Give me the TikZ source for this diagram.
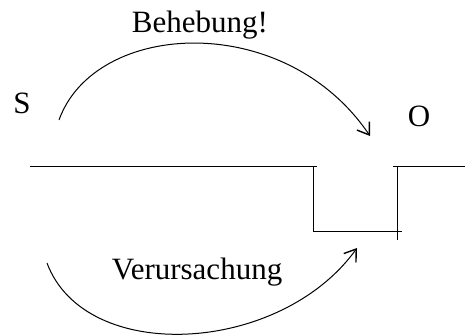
\documentclass[tikz,border=0pt]{standalone}
\usepackage{fontspec}
\setmainfont{Liberation Serif}
\usetikzlibrary{arrows.meta}
\begin{document}
\begin{tikzpicture}[x=1pt,y=-1pt,
  wire/.style={line width=1pt},
  arcarrow/.style={line width=1pt,-{Straight Barb[length=11pt,width=15pt,line width=1.4pt]}},
  lbl/.style={inner sep=0pt,font=\fontsize{31}{36}\selectfont}]
\useasboundingbox (0,0) rectangle (465,336);
% ground line with the pit
\draw[wire] (30,167) -- (317,167);
\draw[wire] (313,167) -- (313,232) -- (402,232);
\draw[wire] (397,167) -- (397,240);
\draw[wire] (393,167) -- (465,167);
% labels
\node[lbl] (s) at (22,103) {S};
\node[lbl] (o) at (419,116) {O};
\node[lbl] (beh) at (200,25) {Behebung!};
\node[lbl] (ver) at (197,272) {Verursachung};
% arrow ends
\coordinate (t1) at (59,120);
\coordinate (t2) at (370,136);
\coordinate (b1) at (47,263);
\coordinate (b2) at (357,248);
\draw[arcarrow] (t1) .. controls (95,20) and (285,10) .. (t2);
\draw[arcarrow] (b1) .. controls (85,365) and (280,355) .. (b2);
\end{tikzpicture}
\end{document}
